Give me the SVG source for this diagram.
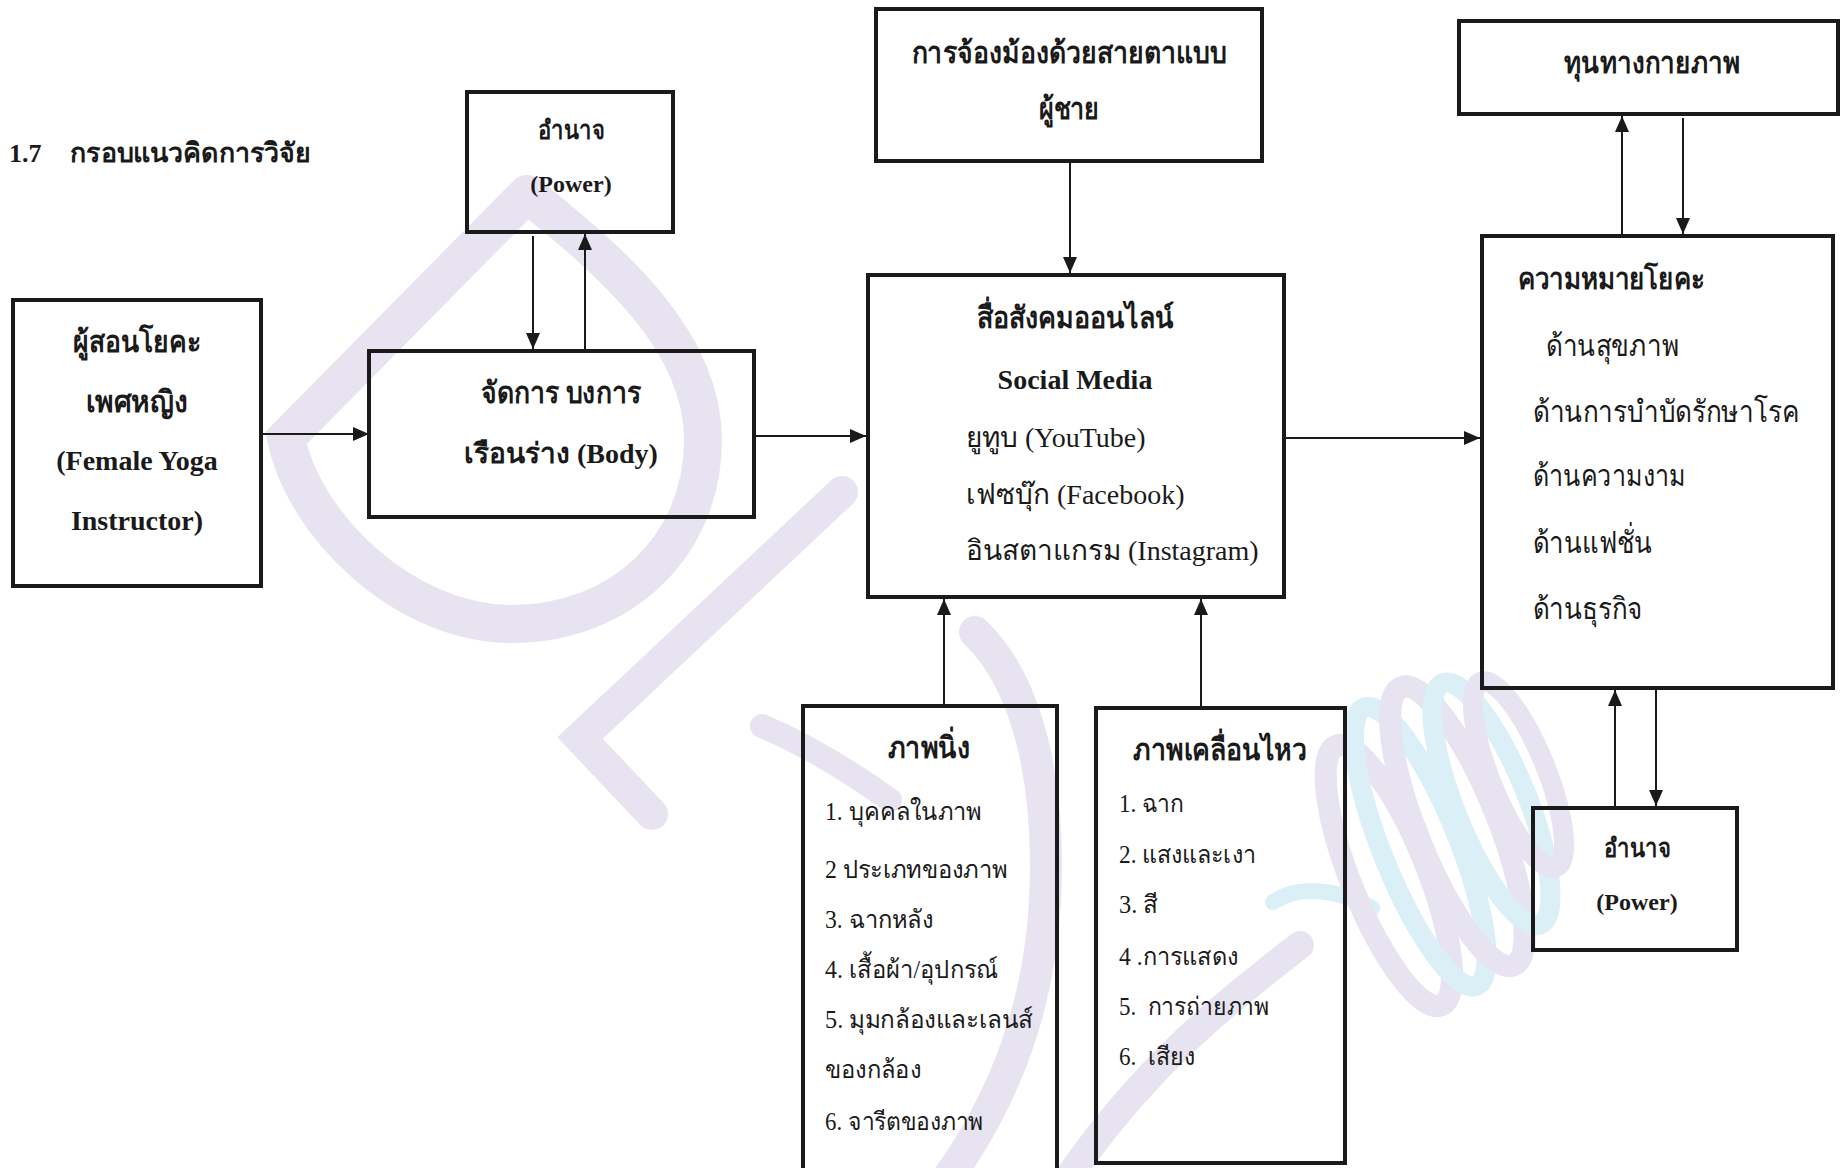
<svg xmlns="http://www.w3.org/2000/svg" width="1841" height="1168" viewBox="0 0 1841 1168">
<defs>
<style>
.box{fill:none;stroke:#1a1a1a;stroke-width:4}
.con{stroke:#1a1a1a;stroke-width:2;fill:none}
.b{font-family:"Liberation Serif","Noto Sans CJK SC",serif;font-weight:bold;fill:#1a1a1a}
.r{font-family:"Liberation Serif","Noto Sans CJK SC",serif;fill:#1a1a1a}
.c{text-anchor:middle}
.wm{fill:none;stroke:#e8e3f1;stroke-linecap:round}
.wb{fill:none;stroke:#dbeff7;stroke-linecap:round}
</style>
<marker id="ah" markerUnits="userSpaceOnUse" markerWidth="16" markerHeight="14" refX="16" refY="7" orient="auto">
<path d="M0,0 L16,7 L0,14 z" fill="#1a1a1a"/>
</marker>
</defs>
<rect width="1841" height="1168" fill="#ffffff"/>
<g id="watermark">
<path class="wm" stroke-width="38" d="M527,194 L286,438 C302,522 402,624 512,624 C622,624 703,545 703,440 C703,340 612,262 527,194"/>
<path class="wm" stroke-width="32" d="M842,492 L580,738 L652,814"/>
<path class="wm" stroke-width="32" d="M975,632 C1035,690 1050,800 1045,900 C1040,1000 1010,1090 950,1175"/>
<path class="wm" stroke-width="24" d="M762,726 C800,742 845,768 890,800"/>
<path class="wm" stroke-width="28" d="M1300,945 C1230,1000 1150,1060 1070,1175"/>
<path class="wb" stroke-width="16" d="M1273,902 C1300,884 1340,890 1372,908"/>
<g transform="rotate(-22 1450 840)">
<ellipse class="wm" stroke-width="22" cx="1380" cy="850" rx="38" ry="140"/>
<ellipse class="wb" stroke-width="20" cx="1420" cy="835" rx="38" ry="150"/>
<ellipse class="wm" stroke-width="22" cx="1462" cy="830" rx="40" ry="150"/>
<ellipse class="wb" stroke-width="20" cx="1502" cy="822" rx="36" ry="130"/>
<ellipse class="wm" stroke-width="20" cx="1538" cy="805" rx="28" ry="100"/>
</g>
</g>
<g id="title">
<text class="b" x="9" y="162" font-size="26">1.7</text>
<text class="b" x="70" y="162" font-size="27" textLength="241" lengthAdjust="spacingAndGlyphs">กรอบแนวคิดการวิจัย</text>
</g>
<g id="power-top">
<rect class="box" x="467" y="92" width="206" height="140"/>
<text class="b c" x="571" y="139" font-size="26" textLength="67" lengthAdjust="spacingAndGlyphs">อำนาจ</text>
<text class="b c" x="571" y="192" font-size="24">(Power)</text>
</g>
<g id="yoga-instructor">
<rect class="box" x="13" y="300" width="248" height="286"/>
<text class="b c" x="137" y="352" font-size="30" textLength="128" lengthAdjust="spacingAndGlyphs">ผู้สอนโยคะ</text>
<text class="b c" x="137" y="412" font-size="30" textLength="103" lengthAdjust="spacingAndGlyphs">เพศหญิง</text>
<text class="b c" x="137" y="470" font-size="28">(Female Yoga</text>
<text class="b c" x="137" y="530" font-size="28">Instructor)</text>
</g>
<g id="body">
<rect class="box" x="369" y="351" width="385" height="166"/>
<text class="b c" x="561" y="403" font-size="30" textLength="160" lengthAdjust="spacingAndGlyphs">จัดการ บงการ</text>
<text class="b c" x="561" y="463" font-size="28">เรือนร่าง (Body)</text>
</g>
<g id="male-gaze">
<rect class="box" x="876" y="9" width="386" height="152"/>
<text class="b c" x="1069" y="63" font-size="30" textLength="315" lengthAdjust="spacingAndGlyphs">การจ้องม้องด้วยสายตาแบบ</text>
<text class="b c" x="1069" y="119" font-size="30" textLength="61" lengthAdjust="spacingAndGlyphs">ผู้ชาย</text>
</g>
<g id="social-media">
<rect class="box" x="868" y="275" width="416" height="322"/>
<text class="b c" x="1075" y="328" font-size="30" textLength="197" lengthAdjust="spacingAndGlyphs">สื่อสังคมออนไลน์</text>
<text class="b c" x="1075" y="389" font-size="28">Social Media</text>
<text class="r" x="966" y="447" font-size="28">ยูทูบ (YouTube)</text>
<text class="r" x="966" y="504" font-size="28">เฟซบุ๊ก (Facebook)</text>
<text class="r" x="966" y="560" font-size="28">อินสตาแกรม (Instagram)</text>
</g>
<g id="physical-capital">
<rect class="box" x="1459" y="21" width="379" height="93"/>
<text class="b c" x="1652" y="73" font-size="30" textLength="176" lengthAdjust="spacingAndGlyphs">ทุนทางกายภาพ</text>
</g>
<g id="yoga-meaning">
<rect class="box" x="1482" y="236" width="351" height="452"/>
<text class="b" x="1518" y="289" font-size="29" textLength="187" lengthAdjust="spacingAndGlyphs">ความหมายโยคะ</text>
<text class="r" x="1546" y="356" font-size="30" textLength="133" lengthAdjust="spacingAndGlyphs">ด้านสุขภาพ</text>
<text class="r" x="1533" y="422" font-size="30" textLength="266" lengthAdjust="spacingAndGlyphs">ด้านการบำบัดรักษาโรค</text>
<text class="r" x="1533" y="486" font-size="30" textLength="153" lengthAdjust="spacingAndGlyphs">ด้านความงาม</text>
<text class="r" x="1533" y="553" font-size="30" textLength="119" lengthAdjust="spacingAndGlyphs">ด้านแฟชั่น</text>
<text class="r" x="1533" y="619" font-size="30" textLength="110" lengthAdjust="spacingAndGlyphs">ด้านธุรกิจ</text>
</g>
<g id="power-bottom">
<rect class="box" x="1533" y="808" width="204" height="142"/>
<text class="b c" x="1637" y="857" font-size="26" textLength="67" lengthAdjust="spacingAndGlyphs">อำนาจ</text>
<text class="b c" x="1637" y="910" font-size="24">(Power)</text>
</g>
<g id="still-image">
<rect class="box" x="803" y="706" width="254" height="480"/>
<text class="b c" x="929" y="758" font-size="30" textLength="83" lengthAdjust="spacingAndGlyphs">ภาพนิ่ง</text>
<text class="r" x="825" y="820" font-size="25" textLength="156" lengthAdjust="spacingAndGlyphs">1. บุคคลในภาพ</text>
<text class="r" x="825" y="878" font-size="25" textLength="182" lengthAdjust="spacingAndGlyphs">2 ประเภทของภาพ</text>
<text class="r" x="825" y="928" font-size="25" textLength="108" lengthAdjust="spacingAndGlyphs">3. ฉากหลัง</text>
<text class="r" x="825" y="978" font-size="25" textLength="173" lengthAdjust="spacingAndGlyphs">4. เสื้อผ้า/อุปกรณ์</text>
<text class="r" x="825" y="1028" font-size="25" textLength="208" lengthAdjust="spacingAndGlyphs">5. มุมกล้องและเลนส์</text>
<text class="r" x="825" y="1078" font-size="25" textLength="96" lengthAdjust="spacingAndGlyphs">ของกล้อง</text>
<text class="r" x="825" y="1130" font-size="25" textLength="158" lengthAdjust="spacingAndGlyphs">6. จารีตของภาพ</text>
</g>
<g id="moving-image">
<rect class="box" x="1096" y="708" width="249" height="455"/>
<text class="b c" x="1220" y="760" font-size="30" textLength="174" lengthAdjust="spacingAndGlyphs">ภาพเคลื่อนไหว</text>
<text class="r" x="1119" y="812" font-size="25" textLength="65" lengthAdjust="spacingAndGlyphs">1. ฉาก</text>
<text class="r" x="1119" y="863" font-size="25" textLength="137" lengthAdjust="spacingAndGlyphs">2. แสงและเงา</text>
<text class="r" x="1119" y="913" font-size="25" textLength="39" lengthAdjust="spacingAndGlyphs">3. สี</text>
<text class="r" x="1119" y="965" font-size="25" textLength="119" lengthAdjust="spacingAndGlyphs">4 .การแสดง</text>
<text class="r" x="1119" y="1015" font-size="25" xml:space="preserve" textLength="150" lengthAdjust="spacingAndGlyphs">5.  การถ่ายภาพ</text>
<text class="r" x="1119" y="1065" font-size="25" xml:space="preserve" textLength="76" lengthAdjust="spacingAndGlyphs">6.  เสียง</text>
</g>
<g id="connectors">
<line class="con" x1="261" y1="434" x2="369" y2="434" marker-end="url(#ah)"/>
<line class="con" x1="533" y1="236" x2="533" y2="349" marker-end="url(#ah)"/>
<line class="con" x1="585" y1="349" x2="585" y2="234" marker-end="url(#ah)"/>
<line class="con" x1="756" y1="436" x2="866" y2="436" marker-end="url(#ah)"/>
<line class="con" x1="1070" y1="163" x2="1070" y2="273" marker-end="url(#ah)"/>
<line class="con" x1="1284" y1="438" x2="1480" y2="438" marker-end="url(#ah)"/>
<line class="con" x1="1622" y1="234" x2="1622" y2="116" marker-end="url(#ah)"/>
<line class="con" x1="1683" y1="118" x2="1683" y2="234" marker-end="url(#ah)"/>
<line class="con" x1="1615" y1="806" x2="1615" y2="690" marker-end="url(#ah)"/>
<line class="con" x1="1656" y1="690" x2="1656" y2="806" marker-end="url(#ah)"/>
<line class="con" x1="944" y1="704" x2="944" y2="599" marker-end="url(#ah)"/>
<line class="con" x1="1201" y1="706" x2="1201" y2="599" marker-end="url(#ah)"/>
</g>
</svg>
